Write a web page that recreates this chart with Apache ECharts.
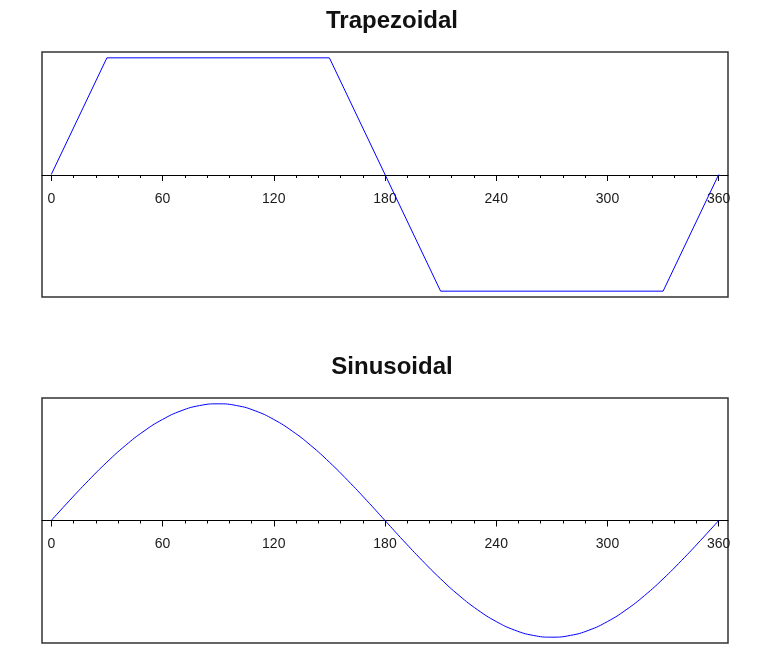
<!DOCTYPE html>
<html>
<head>
<meta charset="utf-8">
<script src="https://cdn.jsdelivr.net/npm/echarts@6/dist/echarts.min.js"></script>
<style>html,body{margin:0;padding:0;background:#fff}#c{width:765px;height:657px}</style>
</head>
<body>
<div id="c"></div>
<script>
var titles = ['Trapezoidal', 'Sinusoidal'];
var majorTicks = [0, 60, 120, 180, 240, 300, 360];
var minorTicks = [12, 24, 36, 48, 72, 84, 96, 108, 132, 144, 156, 168, 192, 204, 216, 228, 252, 264, 276, 288, 312, 324, 336, 348];
var trapX = [0, 30, 150, 210, 330, 360];
var trapY = [0, 1, 1, -1, -1, 0];
var sineX = [0, 10, 20, 30, 40, 50, 60, 70, 80, 90, 100, 110, 120, 130, 140, 150, 160, 170, 180,
  190, 200, 210, 220, 230, 240, 250, 260, 270, 280, 290, 300, 310, 320, 330, 340, 350, 360];
var sineY = [0, 0.174, 0.342, 0.5, 0.643, 0.766, 0.866, 0.94, 0.985, 1, 0.985, 0.94, 0.866, 0.766, 0.643, 0.5, 0.342, 0.174, 0,
  -0.174, -0.342, -0.5, -0.643, -0.766, -0.866, -0.94, -0.985, -1, -0.985, -0.94, -0.866, -0.766, -0.643, -0.5, -0.342, -0.174, 0];

var FONT = '"Liberation Sans", Arial, sans-serif';
var panels = [
  {top: 52, height: 245, zeroH: 123, titleTop: 4},
  {top: 398, height: 245, zeroH: 122.5, titleTop: 350}
];
var X_MIN = -5, X_MAX = 365;

function zip(xs, ys) { return xs.map(function (x, i) { return [x, ys[i]]; }); }

var option = {
  animation: false,
  backgroundColor: '#fff',
  title: titles.map(function (t, i) {
    return {text: t, left: 387, top: panels[i].titleTop, textAlign: 'center',
      textStyle: {fontFamily: FONT, fontSize: 24, fontWeight: 'bold', color: '#111'}};
  }),
  grid: [],
  xAxis: [],
  yAxis: [],
  series: [
    {type: 'line', xAxisIndex: 0, yAxisIndex: 0, data: zip(trapX, trapY), symbol: 'none',
      lineStyle: {color: '#0000ff', width: 1}, z: 5},
    {type: 'line', xAxisIndex: 3, yAxisIndex: 2, data: zip(sineX, sineY), symbol: 'none', smooth: true,
      lineStyle: {color: '#0000ff', width: 1}, z: 5}
  ]
};

panels.forEach(function (p, i) {
  option.grid.push({left: 42, right: 37, top: p.top, height: p.height, show: true,
    borderColor: '#333', borderWidth: 1.5, backgroundColor: 'transparent',
    containLabel: false, outerBoundsMode: 'none'});
  option.grid.push({left: 42, right: 37, top: p.top, height: p.zeroH, show: false,
    containLabel: false, outerBoundsMode: 'none'});
  var gFull = i * 2, gHalf = i * 2 + 1;
  option.yAxis.push({type: 'value', gridIndex: gFull, min: -1.05, max: 1.05, show: false, splitLine: {show: false}});
  option.yAxis.push({type: 'value', gridIndex: gHalf, min: 0, max: 1.05, show: false, splitLine: {show: false}});
  option.xAxis.push({type: 'value', gridIndex: gFull, min: X_MIN, max: X_MAX, show: false, splitLine: {show: false}});
  option.xAxis.push({
    type: 'value', gridIndex: gHalf, min: X_MIN, max: X_MAX, position: 'bottom',
    axisLine: {show: true, onZero: false, lineStyle: {color: '#000', width: 1}},
    axisTick: {show: true, length: 6, customValues: majorTicks, lineStyle: {color: '#000', width: 1}},
    axisLabel: {show: true, customValues: majorTicks, margin: 17, fontFamily: FONT, fontSize: 14, color: '#1a1a1a'},
    splitLine: {show: false}
  });
  option.xAxis.push({
    type: 'value', gridIndex: gHalf, min: X_MIN, max: X_MAX, position: 'bottom',
    axisLine: {show: false, onZero: false},
    axisTick: {show: true, length: 3, customValues: minorTicks, lineStyle: {color: '#000', width: 1}},
    axisLabel: {show: false},
    splitLine: {show: false}
  });
});

var chart = echarts.init(document.getElementById('c'), null, {renderer: 'canvas'});
chart.setOption(option);
</script>
</body>
</html>
